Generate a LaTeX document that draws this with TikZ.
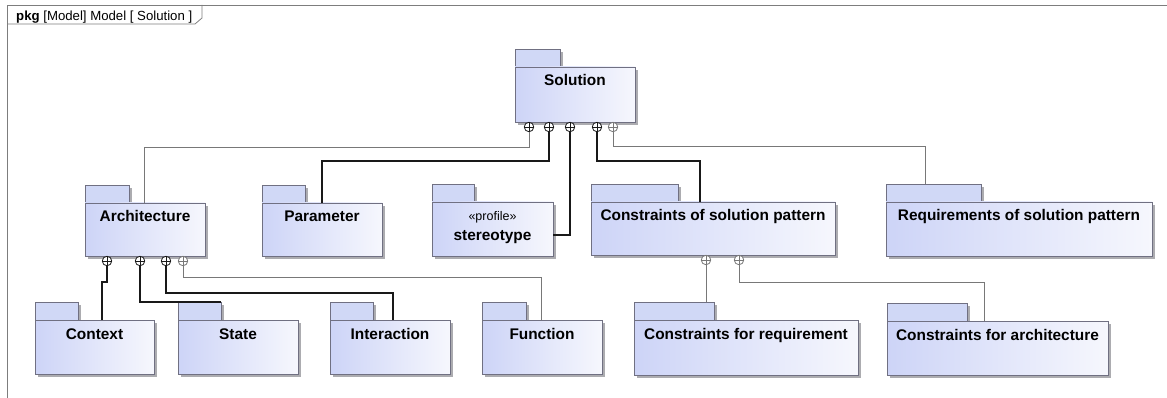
\documentclass[tikz,border=0pt]{standalone}
\usepackage{fontspec}
\setmainfont{Liberation Sans}

\definecolor{pkgtabc}{RGB}{208,216,246}
\definecolor{pkgdark}{RGB}{205,212,247}
\definecolor{pkglight}{RGB}{246,247,253}
\definecolor{pkgline}{RGB}{112,112,130}
\definecolor{pkgshadow}{RGB}{172,172,176}
\definecolor{framec}{RGB}{125,125,125}
\definecolor{connlight}{RGB}{120,120,120}
\definecolor{conndark}{RGB}{25,25,25}

\tikzset{
  pkgbody/.style={draw=pkgline, line width=0.8pt, left color=pkgdark, right color=pkglight,
    rectangle, inner sep=0pt, outer sep=0pt, anchor=north west},
  pkgtab/.style={draw=pkgline, line width=0.8pt, fill=pkgtabc, rectangle,
    inner sep=0pt, outer sep=0pt, anchor=south west, minimum height=18pt},
  owner/.style={circle, draw=#1, line width=0.8pt, fill=white, minimum size=9.5pt,
    inner sep=0pt, outer sep=0pt,
    path picture={\draw[#1, line width=0.7pt]
      (path picture bounding box.north) -- (path picture bounding box.south)
      (path picture bounding box.west) -- (path picture bounding box.east);}},
  owner/.default=conndark,
  conndk/.style={draw=conndark, line width=1.1pt},
  connlt/.style={draw=connlight, line width=0.9pt},
  framestyle/.style={draw=framec, line width=0.8pt},
}

\newcommand\pkgfont{\fontsize{15.4}{19.5}\selectfont\bfseries}
\newcommand\stereofont{\fontsize{12.5}{15}\selectfont\mdseries}

% package: name, left, tab right, body top, right, bottom, label
\newcommand\pkgdraw[7]{%
  \pgfmathsetmacro\pkgw{#5-#2}%
  \pgfmathsetmacro\pkgh{#6-#4}%
  \pgfmathsetmacro\pkgtw{#3-#2}%
  \fill[pkgshadow] (#2+3,#4-15) rectangle (#3+3,#4+3);
  \fill[pkgshadow] (#2+3,#4+3) rectangle (#5+3,#6+3);
  \node[pkgtab, minimum width=\pkgtw pt] (#1-tab) at (#2,#4) {};
  \node[pkgbody, minimum width=\pkgw pt, minimum height=\pkgh pt] (#1) at (#2,#4)
    {\parbox[t][\pkgh pt][t]{\pkgw pt}{\centering\pkgfont\rule{0pt}{19pt}#7}};
}

\begin{document}
\begin{tikzpicture}[x=1pt, y=-1pt]
\useasboundingbox (0,0) rectangle (1167,398);

% diagram frame and its header
\draw[framestyle] (7,398) -- (7,5) -- (1167,5);
\draw[framestyle] (7,24) -- (195,24) -- (202,18) -- (202,5);
\node[anchor=base west, inner sep=0pt, font=\fontsize{13.2}{15}\selectfont] (hdr) at (16,20.5)
  {\textbf{pkg} [Model] Model [ Solution ]};

% packages
\pkgdraw{sol}{515}{560}{67}{635}{122}{Solution}
\pkgdraw{arch}{85}{129}{203}{205}{256}{Architecture}
\pkgdraw{param}{262}{305}{203}{382}{256}{Parameter}
\pkgdraw{stereo}{432}{474}{202}{553}{256}{{\stereofont «profile»}\\stereotype}
\pkgdraw{csp}{591}{678}{202}{835}{255}{Constraints of solution pattern}
\pkgdraw{req}{886}{981}{202}{1152}{256}{Requirements of solution pattern}
\pkgdraw{ctx}{35}{78}{320}{154}{374}{Context}
\pkgdraw{state}{178}{221}{320}{298}{374}{State}
\pkgdraw{inter}{330}{373}{320}{450}{374}{Interaction}
\pkgdraw{func}{482}{526}{320}{602}{374}{Function}
\pkgdraw{cfr}{634}{714}{320}{858}{375}{Constraints for requirement}
\pkgdraw{cfa}{887}{967}{321}{1108}{375}{Constraints for architecture}

% containment ends
\node[owner] (sol-a) at (529,127) {};
\node[owner] (sol-b) at (549,127) {};
\node[owner] (sol-c) at (570,127) {};
\node[owner] (sol-d) at (597,127) {};
\node[owner=connlight] (sol-e) at (613,127) {};
\node[owner] (arch-a) at (107,261) {};
\node[owner] (arch-b) at (140,261) {};
\node[owner] (arch-c) at (166,261) {};
\node[owner=connlight] (arch-d) at (183,261) {};
\node[owner=connlight] (csp-a) at (706,260) {};
\node[owner=connlight] (csp-b) at (739,260) {};

% bend points
\coordinate (k1) at (144,147);
\coordinate (k2) at (322,161);
\coordinate (k3) at (570,235);
\coordinate (k4) at (700,161);
\coordinate (k5) at (925,146);
\coordinate (k6a) at (107,282);
\coordinate (k6b) at (102,282);
\coordinate (k8) at (393,293);
\coordinate (k9) at (541,277);
\coordinate (k11) at (984,282);

% containment connectors
\draw[connlt] (sol-a.south) |- (k1) -- (k1 |- arch.north);
\draw[conndk] (sol-b.south) |- (k2) -- (k2 |- param.north);
\draw[conndk] (sol-c.south) -- (k3) -- (k3 -| stereo.east);
\draw[conndk] (sol-d.south) |- (k4) -- (k4 |- csp.north);
\draw[connlt] (sol-e.south) |- (k5) -- (k5 |- req-tab.north);
\draw[conndk] (arch-a.south) -- (k6a) -- (k6b) -- (k6b |- ctx.north);
\draw[conndk] (arch-b.south) |- (state-tab.north east);
\draw[conndk] (arch-c.south) |- (k8) -- (k8 |- inter.north);
\draw[connlt] (arch-d.south) |- (k9) -- (k9 |- func.north);
\draw[connlt] (csp-a.south) -- (csp-a.south |- cfr-tab.north);
\draw[connlt] (csp-b.south) |- (k11) -- (k11 |- cfa.north);
\end{tikzpicture}
\end{document}
